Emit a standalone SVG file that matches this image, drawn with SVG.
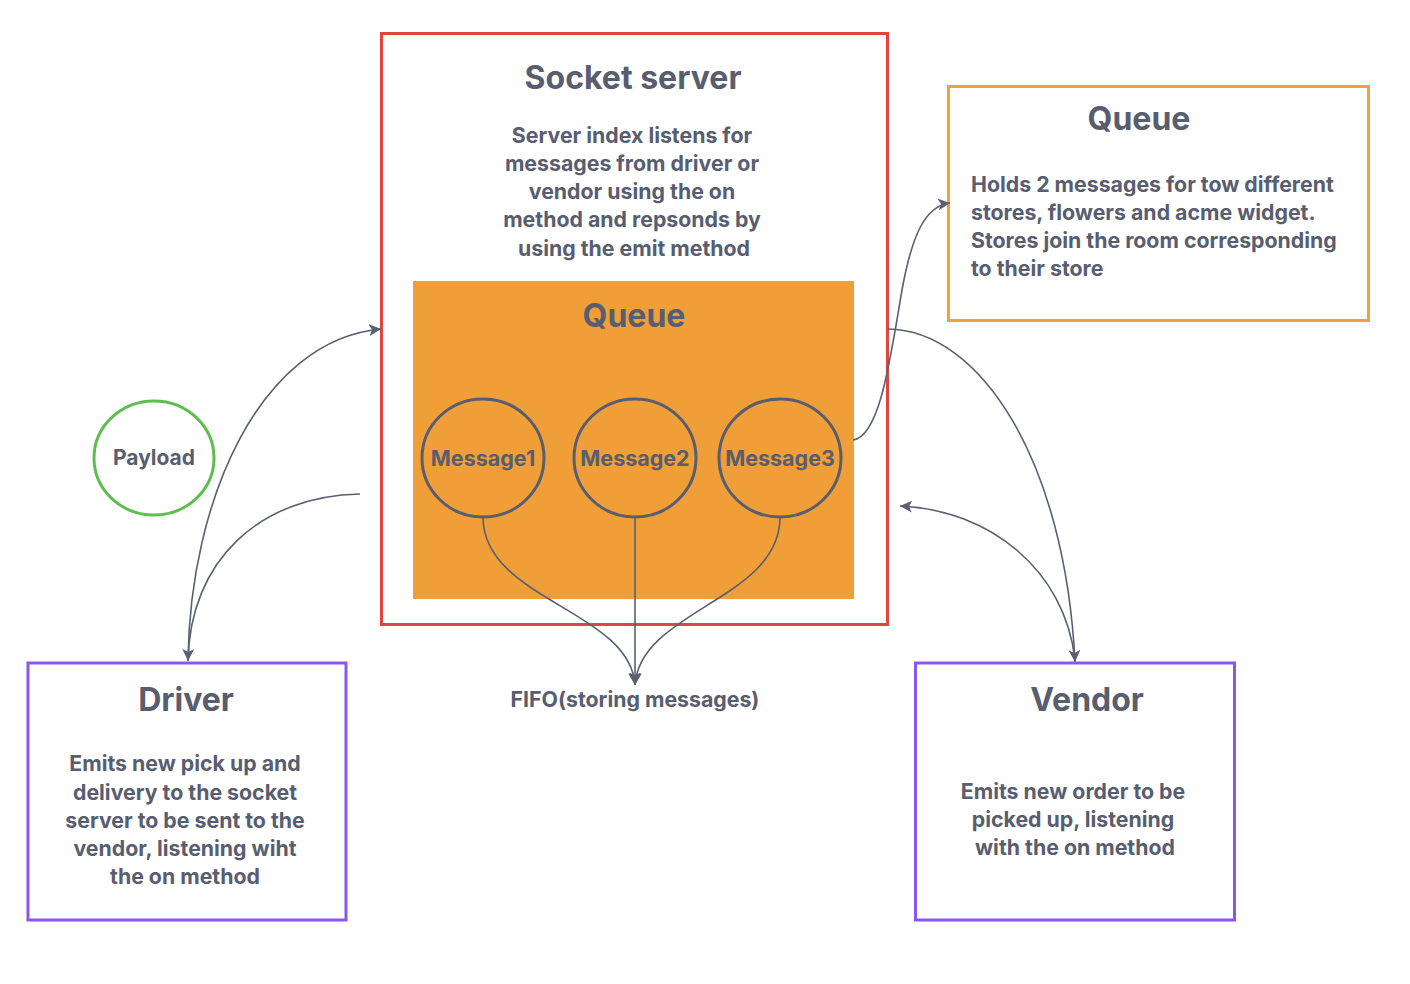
<svg xmlns="http://www.w3.org/2000/svg" width="1410" height="984" viewBox="0 0 1410 984">
<defs>
<marker id="arr" markerUnits="userSpaceOnUse" markerWidth="14" markerHeight="12" refX="12" refY="6" orient="auto">
<path d="M0,0 L12,6 L0,12 L3,6 Z" fill="#5a5f72"/>
</marker>
<style>
text{font-family:Inter,"Noto Sans",sans-serif;fill:#585d70;}
.title{font-size:32px;font-weight:700;text-anchor:middle;}
.body{font-size:21.3px;font-weight:700;}
.c{text-anchor:middle;}
.msg{font-size:21.5px;font-weight:700;text-anchor:middle;}
.box{fill:#ffffff;stroke-width:3;}
.conn{fill:none;stroke:#5a5f72;stroke-width:1.6;}
</style>
</defs>
<rect width="1410" height="984" fill="#ffffff"/>

<g id="socket-server">
<rect class="box" x="381.5" y="33.5" width="506" height="591" stroke="#e0463b"/>
<text class="title" x="633" y="89">Socket server</text>
<text class="body c" x="632" y="143">Server index listens for</text>
<text class="body c" x="632" y="171">messages from driver or</text>
<text class="body c" x="632" y="199">vendor using the on</text>
<text class="body c" x="632" y="227">method and repsonds by</text>
<text class="body c" x="634" y="256">using the emit method</text>
</g>

<g id="queue-inner">
<rect x="413" y="281" width="441" height="318" fill="#f09f38"/>
<text class="title" x="634" y="327">Queue</text>
</g>

<g id="message1">
<ellipse cx="483" cy="458" rx="61" ry="59" fill="none" stroke="#585d70" stroke-width="3"/>
<text class="msg" x="483" y="465.5">Message1</text>
</g>
<g id="message2">
<ellipse cx="635" cy="458" rx="61" ry="59" fill="none" stroke="#585d70" stroke-width="3"/>
<text class="msg" x="635" y="465.5">Message2</text>
</g>
<g id="message3">
<ellipse cx="780" cy="458" rx="61" ry="59" fill="none" stroke="#585d70" stroke-width="3"/>
<text class="msg" x="780" y="465.5">Message3</text>
</g>

<g id="fifo-label">
<text class="body c" x="635" y="707">FIFO(storing messages)</text>
</g>

<g id="queue-box">
<rect class="box" x="948.5" y="86.5" width="420" height="234" stroke="#f3a03c"/>
<text class="title" x="1139" y="130">Queue</text>
<text class="body" x="971" y="192">Holds 2 messages for tow different</text>
<text class="body" x="971" y="220">stores, flowers and acme widget.</text>
<text class="body" x="971" y="248">Stores join the room corresponding</text>
<text class="body" x="971" y="276">to their store</text>
</g>

<g id="payload">
<ellipse cx="154" cy="458" rx="60" ry="57" fill="#ffffff" stroke="#5cbf4d" stroke-width="3"/>
<text class="msg" x="154" y="465" style="font-size:21px">Payload</text>
</g>

<g id="driver">
<rect class="box" x="28" y="663" width="318" height="257" stroke="#8b56f0"/>
<text class="title" x="186" y="711">Driver</text>
<text class="body c" x="185" y="771">Emits new pick up and</text>
<text class="body c" x="185" y="800">delivery to the socket</text>
<text class="body c" x="185" y="828">server to be sent to the</text>
<text class="body c" x="185" y="856">vendor, listening wiht</text>
<text class="body c" x="185" y="884">the on method</text>
</g>

<g id="vendor">
<rect class="box" x="915.5" y="663" width="319" height="257" stroke="#8b56f0"/>
<text class="title" x="1087" y="711">Vendor</text>
<text class="body c" x="1073" y="799">Emits new order to be</text>
<text class="body c" x="1073" y="827">picked up, listening</text>
<text class="body c" x="1075" y="855">with the on method</text>
</g>

<g id="connectors">
<path class="conn" d="M483,517 C483,600 630,610 635,685" marker-end="url(#arr)"/>
<path class="conn" d="M635,517 L635,685" marker-end="url(#arr)"/>
<path class="conn" d="M780,517 C780,600 640,610 635,685" marker-end="url(#arr)"/>
<path class="conn" d="M188,660 C190,500 260,340 381,329" marker-end="url(#arr)"/>
<path class="conn" d="M360,494 C260,496 190,560 188,661" marker-end="url(#arr)"/>
<path class="conn" d="M853,440 C880,436 890,360 902,290 C912,235 925,206 950,203" marker-end="url(#arr)"/>
<path class="conn" d="M888,329 C980,330 1065,460 1075,662" marker-end="url(#arr)"/>
<path class="conn" d="M1075,660 C1065,570 990,510 900,506" marker-end="url(#arr)"/>
</g>
</svg>
